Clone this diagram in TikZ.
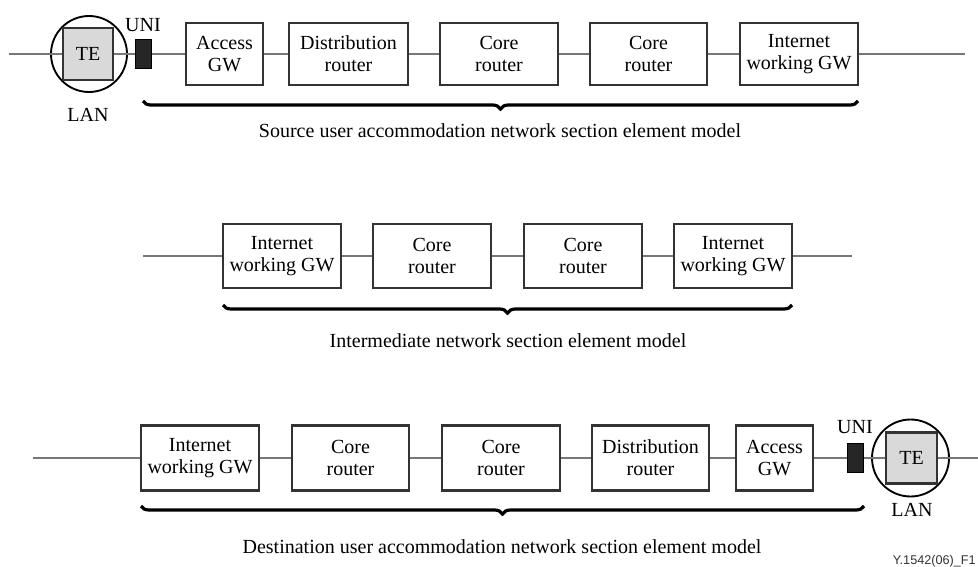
\documentclass[tikz,border=0pt]{standalone}
\usepackage{fontspec}
\setmainfont{Liberation Serif}
\setsansfont{Liberation Sans}
\usetikzlibrary{decorations.pathreplacing}
\definecolor{conn}{HTML}{777777}
\definecolor{bord}{HTML}{333333}
\definecolor{tefill}{HTML}{D9D9D9}
\tikzset{
  elem/.style={draw=bord,line width=1.8pt,fill=white,minimum height=62*0.75pt,inner sep=0pt,align=center,font=\fontsize{15}{16.5}\selectfont},
  wide/.style={elem,minimum width=118*0.75pt},
  narrow/.style={elem,minimum width=77*0.75pt},
  tebox/.style={draw=bord,line width=1.6pt,fill=tefill,minimum width=50*0.75pt,minimum height=52*0.75pt,inner sep=0pt,font=\fontsize{15}{16.5}\selectfont},
  lanring/.style={draw=black,line width=1.4pt,circle,minimum size=76*0.75pt,inner sep=0pt},
  uni/.style={fill=black!85,draw=black,line width=0.6pt,minimum width=16*0.75pt,minimum height=29*0.75pt,inner sep=0pt},
  lbl/.style={font=\fontsize{15}{16.5}\selectfont,inner sep=0pt},
  captext/.style={font=\fontsize{15}{16.5}\selectfont,inner sep=0pt},
  link/.style={draw=conn,line width=1.8pt},
  bracestyle/.style={draw=black,line width=2.4pt,decorate,decoration={brace,mirror,amplitude=6pt}}
}
\begin{document}
\begin{tikzpicture}[x=0.75pt,y=-0.75pt]
\useasboundingbox (0,0) rectangle (978,567);
% ---------- Row 1 ----------
\coordinate (s1) at (9,54);
\coordinate (e1) at (965,54);
\node[lanring] (ring1) at (89,54) {};
\node[tebox] (te1) at (88,54) {TE};
\node[uni] (uni1) at (143.5,54) {};
\node[narrow] (a1) at (224.5,54) {Access\\GW};
\node[elem,minimum width=119*0.75pt] (d1) at (348.5,54) {Distribution\\router};
\node[wide] (c1) at (499,54) {Core\\router};
\node[wide,minimum width=117*0.75pt] (c2) at (648.5,54) {Core\\router};
\node[wide] (i1) at (799,54) {Internet\\working GW};
\draw[link] (s1) -- (te1.west);
\draw[link] (te1.east) -- (uni1.west);
\draw[link] (uni1.east) -- (a1.west);
\draw[link] (a1.east) -- (d1.west);
\draw[link] (d1.east) -- (c1.west);
\draw[link] (c1.east) -- (c2.west);
\draw[link] (c2.east) -- (i1.west);
\draw[link] (i1.east) -- (e1);
\node[lbl] (uniL1) at (143,25) {UNI};
\node[lbl] (lan1) at (88,115) {LAN};
\coordinate (b1s) at (143,101);
\coordinate (b1e) at (858,101);
\draw[bracestyle] (b1s) -- (b1e);
\node[captext] (cap1) at (500,131) {Source user accommodation network section element model};
% ---------- Row 2 ----------
\coordinate (s2) at (143,256);
\coordinate (e2) at (852,256);
\node[wide,minimum height=64*0.75pt] (i2) at (282,256) {Internet\\working GW};
\node[wide,minimum height=64*0.75pt] (c3) at (432,256) {Core\\router};
\node[wide,minimum height=64*0.75pt] (c4) at (583,256) {Core\\router};
\node[wide,minimum height=64*0.75pt] (i3) at (733,256) {Internet\\working GW};
\draw[link] (s2) -- (i2.west);
\draw[link] (i2.east) -- (c3.west);
\draw[link] (c3.east) -- (c4.west);
\draw[link] (c4.east) -- (i3.west);
\draw[link] (i3.east) -- (e2);
\coordinate (b2s) at (223,305);
\coordinate (b2e) at (792,305);
\draw[bracestyle] (b2s) -- (b2e);
\node[captext] (cap2) at (508,341) {Intermediate network section element model};
% ---------- Row 3 ----------
\coordinate (s3) at (33,458);
\coordinate (e3) at (980,458);
\node[wide,minimum height=65*0.75pt] (i4) at (200,458) {Internet\\working GW};
\node[wide,minimum height=65*0.75pt,minimum width=117*0.75pt] (c5) at (350.5,458) {Core\\router};
\node[wide,minimum height=65*0.75pt] (c6) at (501,458) {Core\\router};
\node[elem,minimum height=65*0.75pt,minimum width=117*0.75pt] (d2) at (650.5,458) {Distribution\\router};
\node[narrow,minimum height=65*0.75pt] (a2) at (774.5,458) {Access\\GW};
\node[uni] (uni2) at (855.5,458) {};
\node[lanring,minimum size=77*0.75pt] (ring2) at (910.5,458) {};
\node[tebox,minimum width=51*0.75pt,minimum height=51*0.75pt] (te2) at (911.5,458) {TE};
\draw[link] (s3) -- (i4.west);
\draw[link] (i4.east) -- (c5.west);
\draw[link] (c5.east) -- (c6.west);
\draw[link] (c6.east) -- (d2.west);
\draw[link] (d2.east) -- (a2.west);
\draw[link] (a2.east) -- (uni2.west);
\draw[link] (uni2.east) -- (te2.west);
\draw[link] (te2.east) -- (e3);
\node[lbl] (uniL2) at (855,427) {UNI};
\node[lbl] (lan2) at (912,510) {LAN};
\coordinate (b3s) at (141,506);
\coordinate (b3e) at (864,506);
\draw[bracestyle] (b3s) -- (b3e);
\node[captext] (cap3) at (502,547) {Destination user accommodation network section element model};
\node[anchor=east,inner sep=0pt,font=\sffamily\fontsize{9.5}{10}\selectfont,text=black!80] (fig) at (976,561) {Y.1542(06)\_F1};
\end{tikzpicture}
\end{document}
